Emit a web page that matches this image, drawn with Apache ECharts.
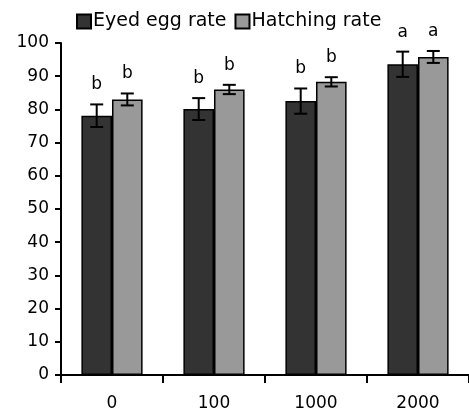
<!DOCTYPE html>
<html><head><meta charset="utf-8">
<script src="https://cdn.jsdelivr.net/npm/echarts@6/dist/echarts.min.js"></script>
<style>html,body{margin:0;padding:0;background:#fff}#c{width:469px;height:412px}</style>
</head><body><div id="c"></div>
<script>
var categories = ['0', '100', '1000', '2000'];
var eyedRate = [78.1, 80.1, 82.5, 93.6];
var eyedErr = [3.4, 3.3, 3.8, 3.8];
var hatchRate = [83.0, 86.0, 88.3, 95.8];
var hatchErr = [1.8, 1.4, 1.4, 1.8];
var eyedLetters = ['b', 'b', 'b', 'a'];
var hatchLetters = ['b', 'b', 'b', 'a'];
var yTicks = [0, 10, 20, 30, 40, 50, 60, 70, 80, 90, 100];

var FONT = 'DejaVu Sans';
var chart = echarts.init(document.getElementById('c'));

function errSeries(name, vals, errs, letters, side) {
  return {
    type: 'custom',
    name: name + ' err',
    z: 10,
    silent: true,
    data: vals.map(function (v, i) { return [i, v, errs[i], letters[i]]; }),
    renderItem: function (params, api) {
      var i = api.value(0), v = api.value(1), e = api.value(2);
      var bw = api.size([1, 0])[0];
      var c = api.coord([i, v]);
      var x = c[0] + side * bw * 0.15;
      var top = api.coord([i, v + e])[1];
      var bot = api.coord([i, v - e])[1];
      var hw = 6.5;
      var st = { stroke: '#000', lineWidth: 2 };
      return {
        type: 'group',
        children: [
          { type: 'line', shape: { x1: x, y1: top, x2: x, y2: bot }, style: st },
          { type: 'line', shape: { x1: x - hw, y1: top, x2: x + hw, y2: top }, style: st },
          { type: 'line', shape: { x1: x - hw, y1: bot, x2: x + hw, y2: bot }, style: st },
          { type: 'text', style: { text: letters[i], x: x, y: top - 11, align: 'center', verticalAlign: 'bottom',
              font: '17px "' + FONT + '"', fill: '#000' } }
        ]
      };
    }
  };
}

chart.setOption({
  animation: false,
  backgroundColor: '#fff',
  legend: {
    left: 71, top: 7, itemWidth: 14, itemHeight: 14, itemGap: 8,
    icon: 'rect',
    textStyle: { fontFamily: FONT, fontSize: 19, color: '#000', padding: [0, 0, 0, -3] },
    data: ['Eyed egg rate', 'Hatching rate']
  },
  grid: { left: 61, top: 43, height: 333, width: 414 },
  xAxis: {
    type: 'category', data: categories,
    axisLine: { lineStyle: { color: '#000', width: 2 } },
    axisTick: { show: true, interval: 0, length: 8, lineStyle: { color: '#000', width: 2 } },
    axisLabel: { color: '#000', fontFamily: FONT, fontSize: 17, margin: 20 }
  },
  yAxis: {
    type: 'value', min: 0, max: 100, interval: 10,
    axisLine: { show: true, lineStyle: { color: '#000', width: 2 } },
    axisTick: { show: true, length: 6, lineStyle: { color: '#000', width: 2 } },
    axisLabel: { color: '#000', fontFamily: FONT, fontSize: 17, margin: 12 },
    splitLine: { show: false }
  },
  series: [
    { type: 'bar', name: 'Eyed egg rate', data: eyedRate, barGap: '0%', barCategoryGap: '40%',
      itemStyle: { color: '#333333', borderColor: '#000', borderWidth: 1.5 } },
    { type: 'bar', name: 'Hatching rate', data: hatchRate, barGap: '0%', barCategoryGap: '40%',
      itemStyle: { color: '#999999', borderColor: '#000', borderWidth: 1.5 } },
    errSeries('Eyed egg rate', eyedRate, eyedErr, eyedLetters, -1),
    errSeries('Hatching rate', hatchRate, hatchErr, hatchLetters, 1)
  ]
});
</script></body></html>
